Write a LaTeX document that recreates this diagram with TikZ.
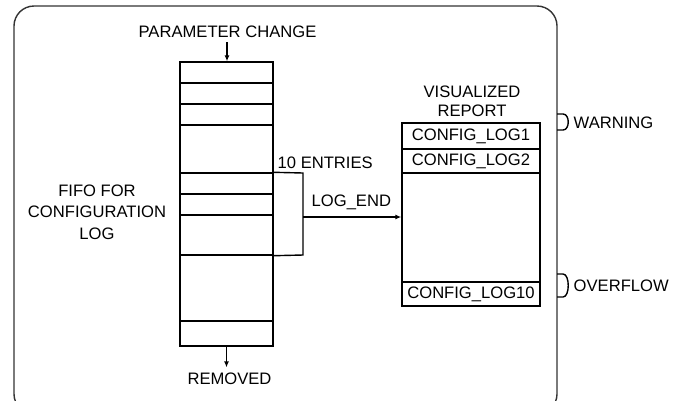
\documentclass[tikz,border=0pt]{standalone}
\usepackage{fontspec}
\setmainfont{Liberation Sans}
\usetikzlibrary{arrows.meta}
\begin{document}
\begin{tikzpicture}[x=1pt,y=-1pt,
  line width=1.4pt,
  lbl/.style={inner sep=0pt, font=\fontsize{16.6}{20}\selectfont},
  fcell/.style={draw, minimum width=93pt, inner sep=0pt},
  rcell/.style={draw, minimum width=138pt, inner sep=0pt, font=\fontsize{16.6}{20}\selectfont},
  arr/.style={-{Latex[length=6pt,width=5pt]}},
  frame/.style={draw=black!80, line width=1.4pt, rounded corners=20pt}
]
\clip (0,0) rectangle (674,400);
\fill[white] (0,0) rectangle (674,400);
% outer frame
\draw[frame] (14,6) rectangle (557,414);

% FIFO cells
\node[fcell, minimum height=21pt] (c1) at (226.5,72.5) {};
\node[fcell, minimum height=21pt] (c2) at (226.5,93.5) {};
\node[fcell, minimum height=21pt] (c3) at (226.5,114.5) {};
\node[fcell, minimum height=48pt] (c4) at (226.5,149) {};
\node[fcell, minimum height=21pt] (c5) at (226.5,183.5) {};
\node[fcell, minimum height=21pt] (c6) at (226.5,204.5) {};
\node[fcell, minimum height=40pt] (c7) at (226.5,235) {};
\node[fcell, minimum height=66pt] (c8) at (226.5,288) {};
\node[fcell, minimum height=25pt] (c9) at (226.5,333.5) {};

% labels
\node[lbl] (param) at (227.5,32) {PARAMETER CHANGE};
\node[lbl] (removed) at (229.5,379) {REMOVED};
\node[lbl, align=center, font=\fontsize{16.6}{21.5}\selectfont] (fifo) at (97,212) {FIFO FOR\\CONFIGURATION\\LOG};
\node[lbl, align=center, font=\fontsize{16.6}{19}\selectfont] (vis) at (472,101.5) {VISUALIZED\\REPORT};
\node[lbl, anchor=west] (entries) at (277,163) {10 ENTRIES};
\node[lbl, anchor=west] (logend) at (311,202) {LOG\_END};
\node[lbl, anchor=west] (warn) at (573,123) {WARNING};
\node[lbl, anchor=west] (ovf) at (573,286) {OVERFLOW};

% report cells
\node[rcell, minimum height=26pt] (r1) at (471,136) {CONFIG\_LOG1};
\node[rcell, minimum height=24pt] (r2) at (471,161) {CONFIG\_LOG2};
\node[rcell, minimum height=109pt] (r3) at (471,227.5) {};
\node[rcell, minimum height=24pt] (r4) at (471,294) {CONFIG\_LOG10};

% arrows
\coordinate (pin) at (227,42);
\draw[arr] (pin) -- (pin |- c1.north);
\draw[arr, shorten >=5pt] (c9.south) -- (c9.south |- removed.north);

% bracket
\coordinate (bt) at (303,173);
\coordinate (bb) at (303,255);
\coordinate (bm) at (303,217);
\draw (c5.north east) -- (bt) -- (bb) -- (c7.south east);
\draw[arr] (bm) -- (bm -| r3.west);

% indicator symbols
\draw (557,114) -- (563,114) .. controls (570,114) and (570,130) .. (563,130) -- (557,130);
\draw (557,274) -- (563,274) .. controls (570,274) and (570,297) .. (563,297) -- (557,297);
\end{tikzpicture}
\end{document}
